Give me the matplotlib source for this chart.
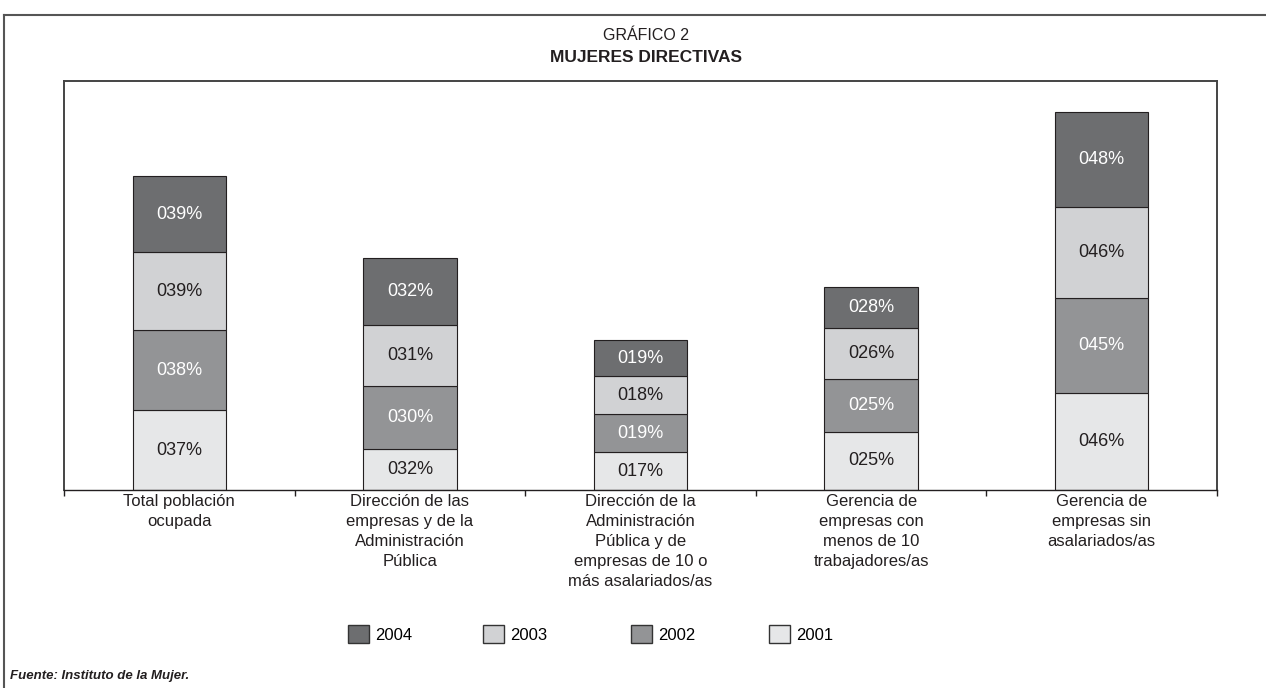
import numpy as np
import matplotlib
matplotlib.use('Agg')
import matplotlib.pyplot as plt
from matplotlib.patches import Patch
from matplotlib.lines import Line2D

plt.rcParams['font.family'] = ['Liberation Sans', 'DejaVu Sans']

# datos del gráfico
categorias = ['Total población\nocupada',
              'Dirección de las\nempresas y de la\nAdministración\nPública',
              'Dirección de la\nAdministración\nPública y de\nempresas de 10 o\nmás asalariados/as',
              'Gerencia de\nempresas con\nmenos de 10\ntrabajadores/as',
              'Gerencia de\nempresas sin\nasalariados/as']
anios = ['2001', '2002', '2003', '2004']
# alturas de los tramos tal como se ven en la imagen
h2001 = [39.0, 20.0, 18.5, 28.3, 47.3]
h2002 = [39.0, 30.7, 18.5, 25.9, 46.3]
h2003 = [38.0, 29.8, 18.5, 24.9, 44.4]
h2004 = [37.1, 32.7, 17.6, 20.0, 46.3]
# etiquetas escritas en cada tramo
l2001 = [37, 32, 17, 25, 46]
l2002 = [38, 30, 19, 25, 45]
l2003 = [39, 31, 18, 26, 46]
l2004 = [39, 32, 19, 28, 48]

alturas = [h2001, h2002, h2003, h2004]
etiquetas = [l2001, l2002, l2003, l2004]
colores = ['#e6e7e8', '#939496', '#d1d2d4', '#6d6e70']
color_txt = ['#231f20', 'white', '#231f20', 'white']

W, H = 1266, 688
fig = plt.figure(figsize=(W/100, H/100), dpi=100)
ax = fig.add_axes([64/W, 1-490/H, (1217-64)/W, (490-81)/H])

x = np.arange(len(categorias))
base = np.zeros(len(categorias))
for i in range(4):
    ax.bar(x, alturas[i], 0.405, bottom=base, color=colores[i],
           edgecolor='#231f20', linewidth=0.8, zorder=2)
    for j in range(len(x)):
        ax.text(x[j], base[j] + alturas[i][j]/2, f'0{etiquetas[i][j]}%',
                ha='center', va='center', fontsize=13, color=color_txt[i], zorder=3)
    base = base + np.array(alturas[i])

ax.set_xlim(-0.5, len(x)-0.5)
ax.set_ylim(0, 199.5)
ax.set_yticks([])
ax.set_xticks(np.arange(len(x)+1)-0.5)
ax.set_xticklabels([])
ax.tick_params(axis='x', which='major', length=4, width=1, color='#231f20', direction='out')
ax.set_xticks(x, minor=True)
ax.set_xticklabels(categorias, minor=True, fontsize=12, color='#231f20', linespacing=1.42)
ax.tick_params(axis='x', which='minor', length=0, pad=3)
for s in ['top', 'left', 'right']:
    ax.spines[s].set_color('#444444')
    ax.spines[s].set_linewidth(1.4)
ax.spines['bottom'].set_color('#231f20')
ax.spines['bottom'].set_linewidth(1.0)

# leyenda (una entrada por año, de 2004 a 2001)
pos_ley = [348, 483, 631, 769]
for k, i in enumerate([3, 2, 1, 0]):
    h = Patch(facecolor=colores[i], edgecolor='#333333', linewidth=1.0)
    fig.legend([h], [anios[i]], frameon=False, loc='center left',
               bbox_to_anchor=(pos_ley[k]/W, 1-634/H), borderpad=0,
               borderaxespad=0, fontsize=12, handlelength=1.25, handleheight=1.25,
               handletextpad=0.4)

# títulos
fig.text(646/W, 1-35/H, 'GRÁFICO 2', ha='center', va='center', fontsize=11.5, color='#231f20')
fig.text(646/W, 1-57/H, 'MUJERES DIRECTIVAS', ha='center', va='center', fontsize=12.5,
         fontweight='bold', color='#231f20')
fig.text(10/W, 1-676/H, 'Fuente: Instituto de la Mujer.', ha='left', va='center',
         fontsize=9.5, fontweight='bold', fontstyle='italic', color='#231f20')

# marco exterior
fig.add_artist(Line2D([4/W, 1], [1-15/H, 1-15/H], color='#555555', linewidth=1.5))
fig.add_artist(Line2D([4/W, 4/W], [0, 1-15/H], color='#555555', linewidth=1.5))

fig.savefig('out.png', dpi=100)
